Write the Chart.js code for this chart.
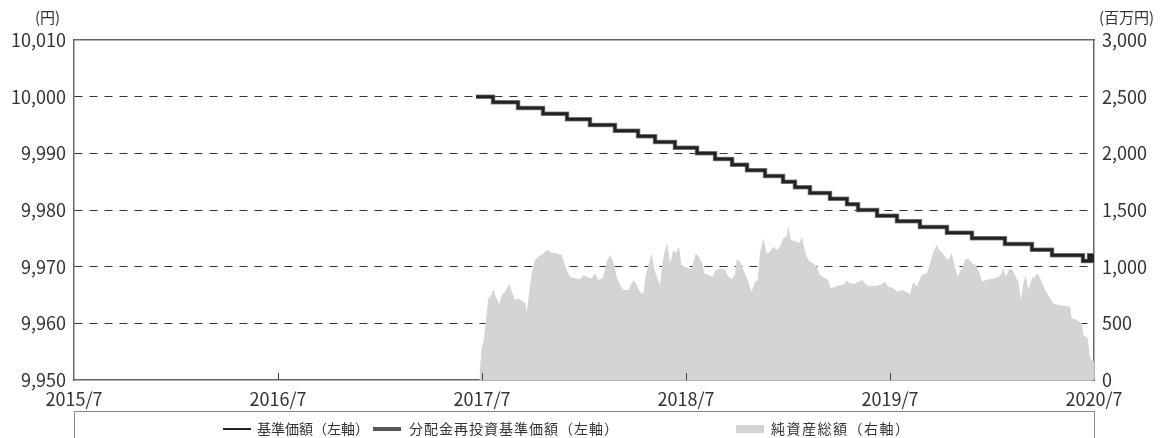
<!DOCTYPE html>
<html lang="ja">
<head>
  <meta charset="UTF-8" />
  <title>基準価額・純資産の推移</title>
  <script src="https://cdn.jsdelivr.net/npm/chart.js"></script>
  <style>
    body { margin: 0; background: #fff; font-family: "Noto Sans CJK JP", "Noto Sans", sans-serif; color: #333; }
    #wrap { position: relative; width: 1164px; height: 438px; overflow: hidden; }
    .unit { position: absolute; top: 6px; font-size: 15px; color: #333; }
    #legend { position: absolute; left: 74px; top: 411px; width: 1019px; height: 60px; border: 1px solid #888; }
    .item { position: absolute; top: 6px; font-size: 14px; color: #333; white-space: nowrap; }
    .sw { position: absolute; }
  </style>
</head>
<body>
  <div id="wrap">
    <canvas id="chart" width="1164" height="438"></canvas>
    <div class="unit" style="left:35px">(円)</div>
    <div class="unit" style="left:1099px">(百万円)</div>
    <div id="legend">
      <div class="sw" style="left:148px;top:16px;width:28px;height:2px;background:#222"></div>
      <div class="item" style="left:182px">基準価額（左軸）</div>
      <div class="sw" style="left:298px;top:15px;width:28px;height:4px;background:#555"></div>
      <div class="item" style="left:334px;letter-spacing:1px">分配金再投資基準価額（左軸）</div>
      <div class="sw" style="left:661px;top:13px;width:28px;height:8px;background:#d3d4d6"></div>
      <div class="item" style="left:696px;letter-spacing:1.5px">純資産総額（右軸）</div>
    </div>
  </div>

  <script>
    // x は 2015/7 からの月数
    const xTickLabels = ['2015/7', '2016/7', '2017/7', '2018/7', '2019/7', '2020/7'];

    // 基準価額（円）：値が変わった月
    const priceMonths = [23.65, 24.65, 26.12, 27.59, 29.0, 30.35, 31.82, 33.18, 34.18, 35.35,
      36.65, 37.71, 38.71, 39.59, 40.65, 41.71, 42.41, 43.29, 44.47, 45.47,
      46.12, 47.24, 48.41, 49.76, 51.35, 52.82, 54.76, 56.35, 57.53, 59.35,
      59.71, 59.82, 59.94, 60];
    const priceValues = [10000, 9999, 9998, 9997, 9996, 9995, 9994, 9993, 9992, 9991,
      9990, 9989, 9988, 9987, 9986, 9985, 9984, 9983, 9982, 9981,
      9980, 9979, 9978, 9977, 9976, 9975, 9974, 9973, 9972, 9971,
      9972, 9971, 9972, 9972];
    // 分配金なしのため基準価額と同じ
    const reinvestValues = [10000, 9999, 9998, 9997, 9996, 9995, 9994, 9993, 9992, 9991,
      9990, 9989, 9988, 9987, 9986, 9985, 9984, 9983, 9982, 9981,
      9980, 9979, 9978, 9977, 9976, 9975, 9974, 9973, 9972, 9971,
      9972, 9971, 9972, 9972];

    // 純資産総額（百万円）
    const assetMonths = [23.84, 23.98, 24.08, 24.18, 24.37, 24.57, 24.66, 24.82, 25.02, 25.16,
      25.35, 25.61, 25.75, 25.94, 26.14, 26.34, 26.53, 26.63, 26.78, 26.92,
      27.12, 27.31, 27.61, 27.84, 28.1, 28.39, 28.69, 28.84, 28.98, 29.18,
      29.47, 29.76, 29.96, 30.16, 30.45, 30.65, 30.84, 31.1, 31.34, 31.53,
      31.76, 31.92, 32.12, 32.31, 32.61, 32.9, 33.1, 33.29, 33.49, 33.63,
      33.82, 33.98, 34.14, 34.28, 34.47, 34.61, 34.76, 34.9, 35.06, 35.25,
      35.39, 35.59, 35.75, 35.94, 36.14, 36.34, 36.57, 36.76, 36.96, 37.08,
      37.31, 37.55, 37.75, 38, 38.29, 38.49, 38.69, 38.88, 38.98, 39.18,
      39.37, 39.63, 39.86, 40.06, 40.22, 40.35, 40.55, 40.75, 40.94, 41.14,
      41.34, 41.53, 41.72, 41.92, 42.02, 42.16, 42.31, 42.51, 42.66, 42.81,
      42.94, 43.1, 43.29, 43.49, 43.69, 43.88, 44.18, 44.37, 44.51, 44.76,
      45.06, 45.25, 45.45, 45.65, 45.94, 46.14, 46.39, 46.59, 46.82, 47.12,
      47.41, 47.71, 47.9, 48.19, 48.43, 48.69, 48.94, 49.18, 49.37, 49.57,
      49.86, 50.16, 50.35, 50.55, 50.75, 50.9, 51.04, 51.24, 51.43, 51.63,
      51.82, 51.98, 52.22, 52.45, 52.61, 52.84, 53.04, 53.24, 53.43, 53.63,
      53.88, 54.14, 54.41, 54.57, 54.66, 54.81, 55, 55.19, 55.35, 55.55,
      55.71, 55.84, 55.98, 56.14, 56.34, 56.53, 56.69, 56.88, 57.12, 57.41,
      57.61, 57.9, 58.29, 58.59, 58.69, 58.98, 59.28, 59.37, 59.63, 59.76,
      59.86, 60];
    const assetValues = [0, 294, 326, 470, 721, 750, 800, 735, 670, 750,
      779, 847, 779, 706, 721, 700, 682, 603, 765, 941,
      1059, 1088, 1118, 1147, 1123, 1118, 1103, 1029, 971, 912,
      897, 888, 926, 912, 897, 941, 882, 897, 1044, 1103,
      1029, 912, 838, 794, 794, 882, 838, 779, 759, 926,
      1029, 1118, 971, 912, 838, 1029, 1147, 1206, 1029, 1147,
      1118, 1171, 1000, 1000, 985, 985, 1118, 1088, 1029, 941,
      926, 912, 971, 985, 971, 912, 888, 926, 1065, 1044,
      971, 882, 779, 868, 882, 1118, 1250, 1118, 1132, 1176,
      1147, 1176, 1250, 1265, 1368, 1235, 1229, 1220, 1206, 1265,
      1176, 1088, 1044, 1029, 1000, 926, 897, 882, 809, 823,
      838, 838, 876, 853, 847, 868, 882, 838, 829, 829,
      838, 868, 823, 809, 779, 794, 779, 759, 868, 823,
      926, 941, 1015, 1132, 1191, 1147, 1132, 1088, 1059, 1118,
      1000, 912, 985, 1065, 1073, 1029, 1015, 956, 868, 882,
      888, 897, 912, 941, 1000, 912, 976, 976, 926, 868,
      706, 853, 926, 794, 897, 912, 941, 882, 794, 721,
      676, 662, 653, 647, 544, 529, 500, 397, 368, 206,
      176, 162];

    const pts = (xs, ys) => xs.map((x, i) => ({ x, y: ys[i] }));
    const tickFont = { family: '"Noto Sans CJK JP", "Noto Sans", sans-serif', size: 18 };
    const fmt = v => v.toLocaleString('en-US');

    // x 軸の目盛り（内側に短い線）
    const innerTicks = {
      id: 'innerTicks',
      afterDatasetsDraw(chart) {
        const { ctx, scales: { x }, chartArea } = chart;
        ctx.save();
        ctx.strokeStyle = '#444';
        ctx.lineWidth = 1;
        [12, 24, 36, 48].forEach(v => {
          const px = Math.round(x.getPixelForValue(v)) + 0.5;
          ctx.beginPath();
          ctx.moveTo(px, chartArea.bottom);
          ctx.lineTo(px, chartArea.bottom - 7);
          ctx.stroke();
        });
        ctx.restore();
      }
    };

    new Chart(document.getElementById('chart'), {
      type: 'line',
      data: {
        datasets: [
          {
            label: '基準価額（左軸）',
            data: pts(priceMonths, priceValues),
            yAxisID: 'y',
            borderColor: '#222',
            borderWidth: 3,
            stepped: 'before',
            pointRadius: 0,
            fill: false,
            order: 1
          },
          {
            label: '分配金再投資基準価額（左軸）',
            data: pts(priceMonths, reinvestValues),
            yAxisID: 'y',
            borderColor: '#8a8a8a',
            borderWidth: 4.5,
            stepped: 'before',
            pointRadius: 0,
            fill: false,
            order: 2
          },
          {
            label: '純資産総額（右軸）',
            data: pts(assetMonths, assetValues),
            yAxisID: 'y1',
            borderWidth: 0,
            backgroundColor: '#d3d4d6',
            pointRadius: 0,
            tension: 0,
            fill: 'origin',
            order: 3
          }
        ]
      },
      options: {
        responsive: false,
        animation: false,
        layout: { padding: 0 },
        plugins: { legend: { display: false }, tooltip: { enabled: false } },
        scales: {
          x: {
            type: 'linear',
            min: 0, max: 60,
            afterFit: s => { s.height = 58; },
            ticks: {
              stepSize: 12, padding: 0, color: '#333', font: tickFont, maxRotation: 0,
              callback: v => xTickLabels[v / 12]
            },
            grid: { display: false },
            border: { display: true, color: '#666', width: 1.5 }
          },
          xTop: {
            type: 'linear',
            position: 'top',
            min: 0, max: 60,
            afterFit: s => { s.height = 40; },
            ticks: { display: false },
            grid: { display: false },
            border: { display: true, color: '#666', width: 1.5 }
          },
          y: {
            position: 'left',
            min: 9950, max: 10010,
            afterFit: s => { s.width = 74; },
            ticks: { stepSize: 10, padding: 8, color: '#333', font: tickFont, callback: fmt },
            grid: {
              drawTicks: false,
              color: c => (c.tick && (c.tick.value === 9950 || c.tick.value === 10010)) ? 'rgba(0,0,0,0)' : '#333',
              lineWidth: 1
            },
            border: { display: true, color: '#666', width: 1.5, dash: [8, 7] }
          },
          y1: {
            position: 'right',
            min: 0, max: 3000,
            afterFit: s => { s.width = 70; },
            ticks: { stepSize: 500, padding: 8, color: '#333', font: tickFont, callback: fmt },
            grid: { display: false, drawTicks: false },
            border: { display: true, color: '#666', width: 1.5 }
          }
        }
      },
      plugins: [innerTicks]
    });
  </script>
</body>
</html>
